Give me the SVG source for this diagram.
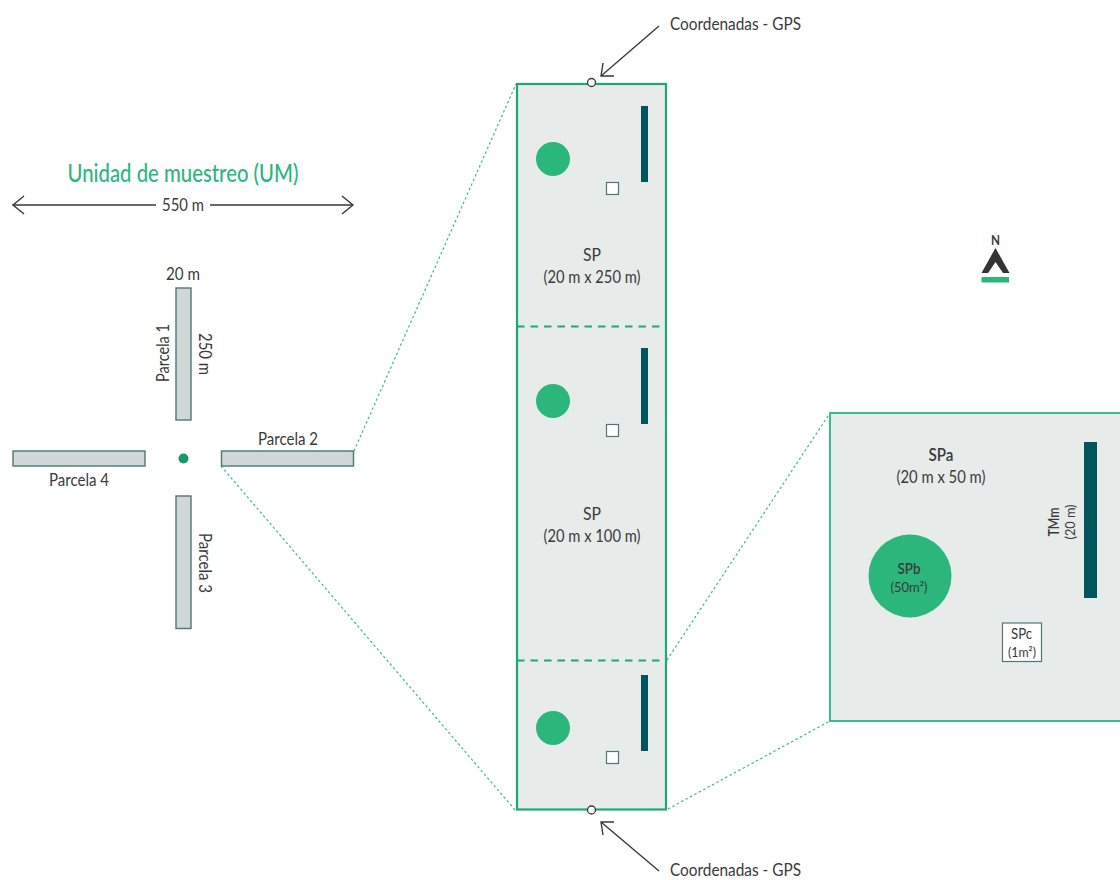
<svg xmlns="http://www.w3.org/2000/svg" width="1120" height="880" viewBox="0 0 1120 880">
<style>
text{font-family:"Lato","Liberation Sans",sans-serif;fill:#3a3a3a;text-anchor:middle;font-size:17px}
.sm{font-size:14px}
.b{font-weight:600}
.plot{fill:#cfd8d6;stroke:#4f7873;stroke-width:1.4}
.big{fill:#e7ebea}
.edge{fill:none;stroke:#1fa77b;stroke-width:2.2}
.dash{fill:none;stroke:#1fa77b;stroke-width:2.2;stroke-dasharray:7.5 6}
.zoom{fill:none;stroke:#3cba8c;stroke-width:1.2;stroke-dasharray:2.5 2.5}
.ar{fill:none;stroke:#3a3a3a;stroke-width:1.4}
.circ{fill:#2bb67c}
.tm{fill:#00555c}
.sq{fill:#fff;stroke:#4f7873;stroke-width:1.2}
.gps{fill:#fff;stroke:#3a3a3a;stroke-width:1.3}
</style>
<g id="connectors">
<path class="zoom" d="M354 451L516 84"/>
<path class="zoom" d="M221 466L515 810"/>
<path class="zoom" d="M667 660L830 413"/>
<path class="zoom" d="M668 809L830 721"/>
<path class="ar" d="M12.500 205H156M210 205H353"/>
<path class="ar" d="M24 196L13 205L24 214M342 196L353 205L342 214" stroke-width="1.5"/>
<path class="ar" d="M659 26L601 76M603 63L601 76L614 76"/>
<path class="ar" d="M659 871L601 822M603 835L601 822L614 822"/>
</g>
<g id="title"><text x="183" y="182" textLength="231" lengthAdjust="spacingAndGlyphs" style="font-size:24px;fill:#2bb67c;font-weight:500">Unidad de muestreo (UM)</text></g>
<g id="dimension"><text x="183" y="211" textLength="42" lengthAdjust="spacingAndGlyphs">550 m</text></g>
<g id="parcela1"><rect class="plot" x="176" y="288" width="15" height="132"/>
<text x="183" y="280" textLength="34" lengthAdjust="spacingAndGlyphs">20 m</text>
<text transform="translate(169 353) rotate(-90)" textLength="58" lengthAdjust="spacingAndGlyphs">Parcela 1</text>
<text transform="translate(199 354) rotate(90)" textLength="42" lengthAdjust="spacingAndGlyphs">250 m</text></g>
<g id="parcela2"><rect class="plot" x="221.500" y="451" width="132" height="15"/>
<text x="288" y="445" textLength="60" lengthAdjust="spacingAndGlyphs">Parcela 2</text></g>
<g id="parcela3"><rect class="plot" x="176" y="496" width="15" height="132.500"/>
<text transform="translate(199 563) rotate(90)" textLength="60" lengthAdjust="spacingAndGlyphs">Parcela 3</text></g>
<g id="parcela4"><rect class="plot" x="13" y="451" width="132" height="15"/>
<text x="79" y="486" textLength="60" lengthAdjust="spacingAndGlyphs">Parcela 4</text></g>
<g id="centro"><circle cx="183.500" cy="458.500" r="5" fill="#159a6c"/></g>
<g id="transecto">
<rect class="big" x="517" y="84" width="149" height="725.500"/>
<rect class="edge" x="517" y="84" width="149" height="725.500"/>
<path class="dash" d="M517 326.500H666M517 660.500H666"/>
<circle class="circ" cx="553" cy="159" r="17"/>
<rect class="tm" x="641" y="106" width="7" height="76"/>
<rect class="sq" x="606.500" y="182.500" width="12" height="12"/>
<circle class="circ" cx="553" cy="401" r="17"/>
<rect class="tm" x="641" y="348" width="7" height="76"/>
<rect class="sq" x="606.500" y="424.500" width="12" height="12"/>
<circle class="circ" cx="553" cy="728" r="17"/>
<rect class="tm" x="641" y="675" width="7" height="76"/>
<rect class="sq" x="606.500" y="751.500" width="12" height="12"/>
<circle class="gps" cx="591.500" cy="82.500" r="4"/>
<circle class="gps" cx="591.500" cy="810" r="4"/>
<text x="592" y="261" textLength="18" lengthAdjust="spacingAndGlyphs">SP</text>
<text x="592" y="283" textLength="97" lengthAdjust="spacingAndGlyphs">(20 m x 250 m)</text>
<text x="592" y="520" textLength="18" lengthAdjust="spacingAndGlyphs">SP</text>
<text x="592" y="542" textLength="97" lengthAdjust="spacingAndGlyphs">(20 m x 100 m)</text>
</g>
<g id="gps-top"><text x="735.500" y="30" textLength="131" lengthAdjust="spacingAndGlyphs">Coordenadas - GPS</text></g>
<g id="gps-bottom"><text x="735.500" y="876" textLength="131" lengthAdjust="spacingAndGlyphs">Coordenadas - GPS</text></g>
<g id="norte">
<text x="995.500" y="245" textLength="9" lengthAdjust="spacingAndGlyphs" style="font-size:14px;font-weight:700">N</text>
<path d="M995.500 248L1009.500 273H1003L995.500 262L988 273H981.500Z" fill="#333"/>
<rect x="981.500" y="277" width="27.500" height="5.500" fill="#2bb67c"/>
</g>
<g id="spa">
<rect class="big" x="830" y="413" width="291" height="308"/>
<path d="M1121 413H830V721H1121" fill="none" stroke="#3cba8c" stroke-width="2"/>
<text x="941" y="461" textLength="25" lengthAdjust="spacingAndGlyphs" class="b">SPa</text>
<text x="941" y="483" textLength="89" lengthAdjust="spacingAndGlyphs">(20 m x 50 m)</text>
</g>
<g id="spb"><circle class="circ" cx="910" cy="576" r="41.500"/>
<text x="909" y="574" textLength="23" lengthAdjust="spacingAndGlyphs" class="b" style="font-size:15px">SPb</text>
<text x="909" y="592" textLength="37" lengthAdjust="spacingAndGlyphs" class="sm">(50m²)</text></g>
<g id="spc"><rect class="sq" x="1002.500" y="623" width="39" height="38.500"/>
<text x="1021.500" y="639" textLength="21" lengthAdjust="spacingAndGlyphs" style="font-size:15px">SPc</text>
<text x="1022" y="657" textLength="28" lengthAdjust="spacingAndGlyphs" class="sm">(1m²)</text></g>
<g id="tmm"><rect class="tm" x="1084" y="442" width="13" height="156"/>
<text transform="translate(1059 522) rotate(-90)" textLength="29" lengthAdjust="spacingAndGlyphs" class="b" style="font-size:15.500px">TMm</text>
<text transform="translate(1075 522) rotate(-90)" textLength="35" lengthAdjust="spacingAndGlyphs" class="sm">(20 m)</text></g>
</svg>
